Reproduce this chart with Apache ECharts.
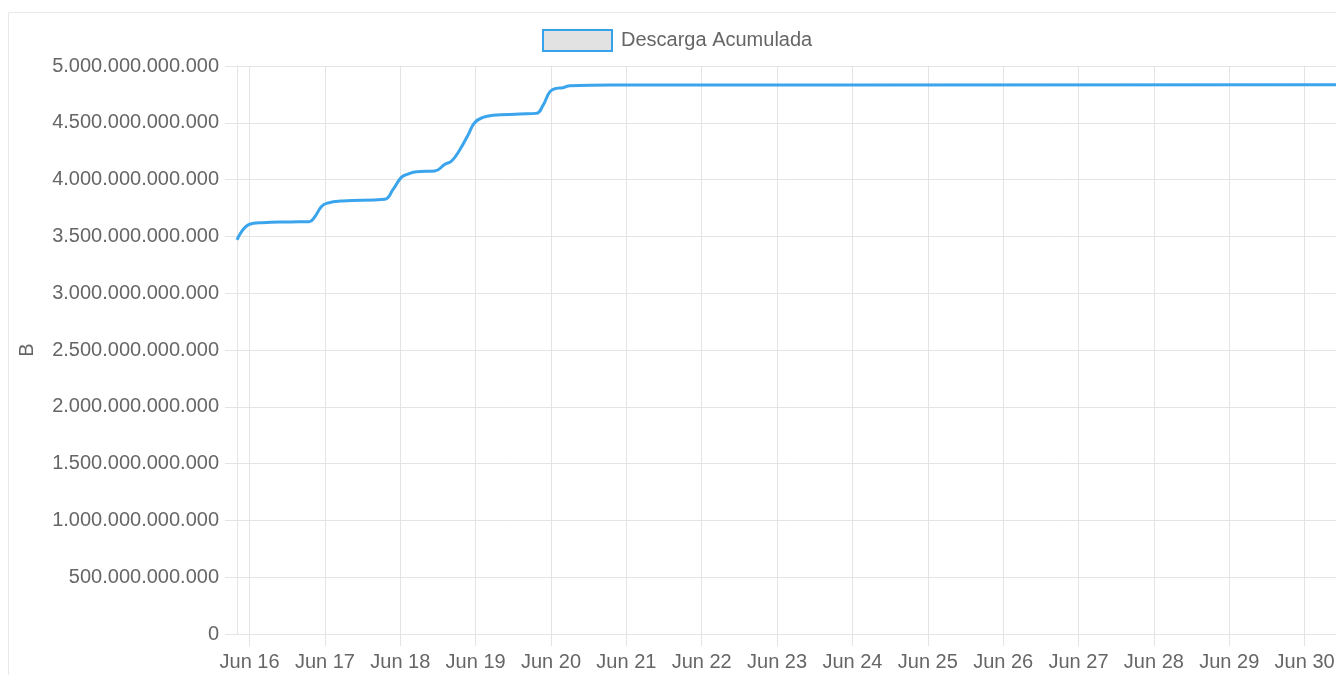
<!DOCTYPE html>
<html>
<head>
<meta charset="utf-8">
<title>Descarga Acumulada</title>
<script src="https://cdn.jsdelivr.net/npm/echarts@6/dist/echarts.min.js"></script>
<style>
  html, body { margin: 0; padding: 0; background: #fff; overflow: hidden; }
  #chart { width: 1336px; height: 675px; }
</style>
</head>
<body>
<div id="chart"></div>
<script>
// lecturas aproximadas (hora local) y descarga acumulada en TB
var times = [
  '2023-06-15T20:00', '2023-06-16T00:00', '2023-06-16T04:00', '2023-06-16T13:00',
  '2023-06-16T19:00', '2023-06-16T20:40', '2023-06-16T22:50', '2023-06-17T00:30',
  '2023-06-17T05:40', '2023-06-17T19:00', '2023-06-17T21:40', '2023-06-18T00:20',
  '2023-06-18T02:30', '2023-06-18T05:10', '2023-06-18T11:00', '2023-06-18T14:10',
  '2023-06-18T16:20', '2023-06-18T18:55', '2023-06-18T21:35', '2023-06-18T23:40',
  '2023-06-19T02:20', '2023-06-19T05:30', '2023-06-19T14:00', '2023-06-19T19:20',
  '2023-06-19T21:30', '2023-06-19T23:40', '2023-06-20T01:40', '2023-06-20T03:50',
  '2023-06-20T06:00', '2023-06-20T21:55', '2023-06-21T23:25', '2023-06-30T10:00'
];
var descargaTB = [
  3.470, 3.607, 3.621, 3.627,
  3.630, 3.668, 3.761, 3.791,
  3.812, 3.827, 3.912, 4.020,
  4.049, 4.069, 4.076, 4.134,
  4.164, 4.261, 4.393, 4.501,
  4.548, 4.566, 4.577, 4.583,
  4.656, 4.774, 4.803, 4.809,
  4.827, 4.832, 4.833, 4.834
];
var yTicks = { min: 0, max: 5e12, interval: 5e11 };
var meses = ['Jan', 'Feb', 'Mar', 'Apr', 'May', 'Jun', 'Jul', 'Aug', 'Sep', 'Oct', 'Nov', 'Dec'];

var seriesData = times.map(function (t, i) {
  return [new Date(t).getTime(), descargaTB[i] * 1e12];
});

var chartDom = document.getElementById('chart');
var myChart = echarts.init(chartDom);
var font = '"Liberation Sans", Arial, Helvetica, sans-serif';
var gridColor = '#e4e4e4';

function miles(v) {
  return String(v).replace(/\B(?=(\d{3})+(?!\d))/g, '.');
}

var option = {
  animation: false,
  textStyle: { fontFamily: font },
  graphic: [{
    type: 'rect',
    z: -10,
    shape: { x: 8.5, y: 12.5, width: 1400, height: 700 },
    style: { fill: 'none', stroke: '#e8e8e8', lineWidth: 1 }
  }],
  legend: {
    left: 542,
    top: 29,
    padding: 0,
    icon: 'rect',
    itemWidth: 69,
    itemHeight: 21,
    itemStyle: { color: '#e2e2e2', borderColor: '#36a2eb', borderWidth: 2 },
    textStyle: { color: '#666', fontSize: 20, fontFamily: font, padding: [0, 0, 0, 4] },
    data: ['Descarga Acumulada']
  },
  grid: {
    left: 237,
    top: 66,
    right: 0,
    bottom: 41,
    containLabel: false,
    outerBoundsMode: 'none'
  },
  xAxis: {
    type: 'time',
    min: new Date(times[0]).getTime(),
    max: new Date(times[times.length - 1]).getTime(),
    minInterval: 86400000,
    maxInterval: 86400000,
    axisLine: { show: true, lineStyle: { color: gridColor, width: 1 } },
    axisTick: { show: true, length: 12, lineStyle: { color: gridColor } },
    splitLine: { show: true, lineStyle: { color: gridColor, width: 1 } },
    axisLabel: {
      color: '#666',
      fontSize: 20,
      fontFamily: font,
      margin: 18,
      showMinLabel: false,
      showMaxLabel: false,
      hideOverlap: false,
      formatter: function (v) {
        var d = new Date(v);
        return meses[d.getMonth()] + ' ' + d.getDate();
      }
    }
  },
  yAxis: {
    type: 'value',
    min: yTicks.min,
    max: yTicks.max,
    interval: yTicks.interval,
    name: 'B',
    nameLocation: 'middle',
    nameRotate: 90,
    nameGap: 200,
    nameTextStyle: { color: '#666', fontSize: 20, fontFamily: font },
    axisLine: { show: true, lineStyle: { color: gridColor, width: 1 } },
    axisTick: { show: true, length: 12, lineStyle: { color: gridColor } },
    splitLine: { show: true, lineStyle: { color: gridColor, width: 1 } },
    axisLabel: {
      color: '#666',
      fontSize: 20,
      fontFamily: font,
      margin: 18,
      formatter: function (v) { return miles(v); }
    }
  },
  series: [{
    name: 'Descarga Acumulada',
    type: 'line',
    data: seriesData,
    showSymbol: false,
    smooth: 0.45,
    lineStyle: { color: '#3aa4ec', width: 3 },
    itemStyle: { color: '#3aa4ec' }
  }]
};

myChart.setOption(option);

window.onresize = () => {
  myChart.resize();
}
</script>
</body>
</html>
